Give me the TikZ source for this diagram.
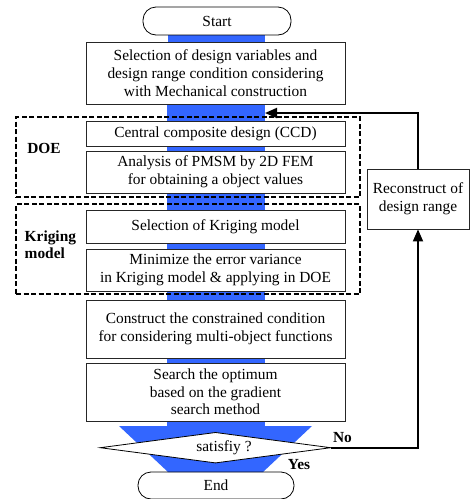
\documentclass[tikz,border=0pt]{standalone}
\usepackage{fontspec}
\setmainfont{Liberation Serif}
\usetikzlibrary{arrows.meta,calc}
\definecolor{flowblue}{RGB}{51,102,255}
\pgfdeclarelayer{bg}
\pgfsetlayers{bg,main}
\begin{document}
\begin{tikzpicture}[x=1pt,y=-1pt,
  every node/.style={font=\fontsize{15.4}{17.7}\selectfont},
  box/.style={draw=black!85,line width=0.8pt,minimum width=259pt,inner sep=0pt,align=center},
  term/.style={draw,line width=0.8pt,rounded corners=13pt,inner sep=0pt},
  grp/.style={draw,line width=1.4pt,dash pattern=on 5pt off 2.5pt,inner sep=0pt},
  fb/.style={line width=1.8pt,-{Triangle[length=12pt,width=10pt]}},
  lbl/.style={font=\fontsize{15.4}{17}\selectfont\bfseries,inner sep=0pt}]
\useasboundingbox (0,0) rectangle (470,499);

% terminals and process boxes
\node[term,minimum width=148pt,minimum height=28pt] (start) at (217,21) {Start};
\node[box,minimum height=62pt] (b1) at (215.5,73) {Selection of design variables and\\design range condition considering\\with Mechanical construction};
\node[box,minimum height=25pt] (ccd) at (215.5,133.5) {Central composite design (CCD)};
\node[box,minimum height=42pt] (ana) at (215.5,172) {Analysis of PMSM by 2D FEM\\for obtaining a object values};
\node[box,minimum height=33pt] (ksel) at (215.5,226.5) {Selection of Kriging model};
\node[box,minimum height=42pt] (kmin) at (215.5,270) {Minimize the error variance\\in Kriging model \& applying in DOE};
\node[box,minimum height=58pt] (cons) at (215.5,329) {Construct the constrained condition\\for considering multi-object functions};
\node[box,minimum height=58pt] (srch) at (215.5,392) {Search the optimum\\based on the gradient\\search method};
\node[minimum width=230pt,minimum height=30pt,inner sep=0pt] (dec) at (215.5,447.7) {};
\node[inner sep=0pt] (dectext) at (224,448) {satisfiy ?};
\node[term,minimum width=156pt,minimum height=27pt] (end) at (216,485.5) {End};
\node[box,minimum width=102pt,minimum height=60pt] (rec) at (418,199) {Reconstruct of\\design range};

% group frames
\node[grp,minimum width=344pt,minimum height=80pt] (doe) at (188,157) {};
\node[grp,minimum width=344pt,minimum height=90pt] (krig) at (188,249) {};
\node[lbl] (doel) at (44,148) {DOE};
\node[lbl,anchor=west,align=left] (krigl) at (24.5,244.5) {Kriging\\model};
\node[lbl] (no) at (342.5,438) {No};
\node[lbl] (yes) at (299,465) {Yes};

% blue flow bars
\begin{pgfonlayer}{bg}
\foreach \a/\b in {start/b1,b1/ccd,ccd/ana,ana/ksel,ksel/kmin,kmin/cons,cons/srch}
  \fill[flowblue] ($(\a.south)!0!(\b.north)+(-49,0)$ |- \a.south) rectangle ($(\b.north)+(49,0)$);
\coordinate (fa) at ($(srch.south)+(-49,0)$);
\coordinate (fb) at ($(srch.south)+(49,0)$);
\fill[flowblue] (fa) rectangle (264.5,426);
\fill[flowblue] (119,426) -- (312,426) -- (263,472) -- (168,472) -- cycle;
\filldraw[fill=white,draw=black,line width=0.8pt] (dec.west) -- (dec.north) -- (dec.east) -- (dec.south) -- cycle;
\end{pgfonlayer}

% feedback loop
\coordinate (fbin) at (265,113);
\draw[fb] (dec.east) -| (rec.south);
\draw[fb] (rec.north) |- (fbin);
\end{tikzpicture}
\end{document}
